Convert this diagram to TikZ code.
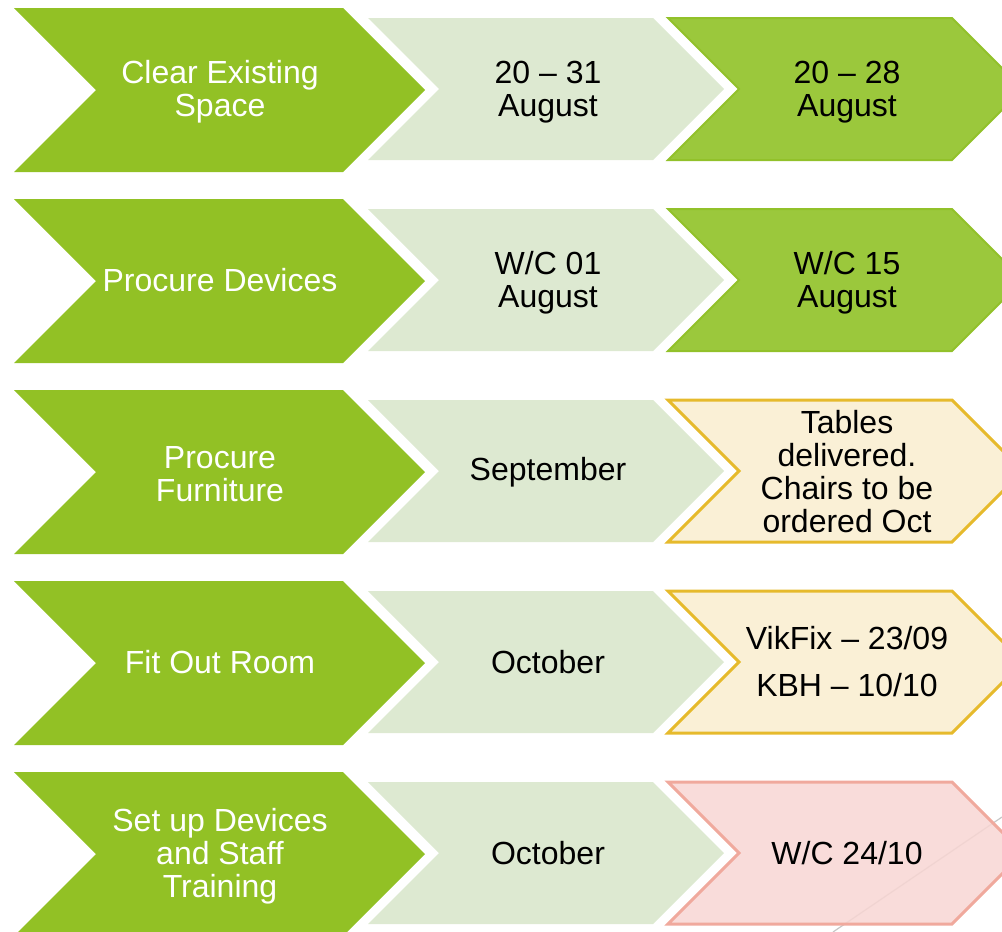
\documentclass[tikz,border=0pt]{standalone}
\usepackage{fontspec}
\setmainfont{Liberation Sans}
\usepackage{tikz}
\usetikzlibrary{calc}
\usetikzlibrary{math}

\definecolor{vertfonce}{HTML}{92C125}
\definecolor{vertpale}{HTML}{DDE9D1}
\definecolor{vertclair}{HTML}{9BC83C}
\definecolor{vertbord}{HTML}{92C12A}
\definecolor{jaunepale}{HTML}{FAF0D6}
\definecolor{jaunebord}{HTML}{E6BA2C}
\definecolor{rosepale}{HTML}{F8D6D3}
\definecolor{rosebord}{HTML}{F0A99D}

\tikzset{
    grand/.style={fill=vertfonce, draw=none},
    moyen/.style={fill=vertpale, draw=none},
    fait/.style={fill=vertclair, draw=vertbord, line width=2pt},
    encours/.style={fill=jaunepale, draw=jaunebord, line width=3pt},
    avenir/.style={fill=rosepale, fill opacity=0.85, draw=rosebord, line width=3pt},
    texte/.style={align=center, inner sep=0pt, font=\fontsize{32}{33}\selectfont},
    texteblanc/.style={texte, text=white},
}

% chevron : style, x, y, largeur, hauteur
\newcommand{\chevron}[5]{%
    \draw[#1] (#2,#3) -- ++(#4,0) -- ++(#5/2,#5/2) -- ++(-#5/2,#5/2)
        -- ++(-#4,0) -- ++(#5/2,-#5/2) -- cycle;
}

\begin{document}
\begin{tikzpicture}[x=1pt, y=-1pt]
            \useasboundingbox (0,0) rectangle (1002,932);
            \clip (0,0) rectangle (1002,932);
            \foreach \i in {0,...,4} {
                \tikzmath{\ligne = 8 + 191*\i; \bas = \ligne + 10;}
                \chevron{grand}{14}{\ligne}{329}{164}
                \chevron{moyen}{368}{\bas}{285}{142}
            }
            \chevron{fait}{668}{18}{284}{142}
            \chevron{fait}{668}{209}{284}{142}
            \chevron{encours}{668}{400}{284}{142}
            \chevron{encours}{668}{591}{284}{142}
            \draw[color=black!22, line width=1.2pt] (1002,817) -- (833,932);
            \chevron{avenir}{668}{782}{284}{142}
            % etapes
            \node[texteblanc] (etape1) at (220,92) {Clear Existing\\Space};
            \node[texteblanc] (etape2) at (220,280) {Procure Devices};
            \node[texteblanc] (etape3) at (220,474) {Procure\\Furniture};
            \node[texteblanc] (etape4) at (220,662) {Fit Out Room};
            \node[texteblanc] (etape5) at (220,856) {Set up Devices\\and Staff\\Training};
            % dates prevues
            \node[texte] (prevu1) at (548,92) {20 – 31\\August};
            \node[texte] (prevu2) at (548,283) {W/C 01\\August};
            \node[texte] (prevu3) at (548,472) {September};
            \node[texte] (prevu4) at (548,662) {October};
            \node[texte] (prevu5) at (548,853) {October};
            % avancement
            \node[texte] (reel1) at (847,92) {20 – 28\\August};
            \node[texte] (reel2) at (847,283) {W/C 15\\August};
            \node[texte] (reel3) at (847,472) {Tables\\delivered.\\Chairs to be\\ordered Oct};
            \node[texte] (reel4) at (847,662) {VikFix – 23/09\\[14pt]KBH – 10/10};
            \node[texte] (reel5) at (847,853) {W/C 24/10};
        \end{tikzpicture}
\end{document}
